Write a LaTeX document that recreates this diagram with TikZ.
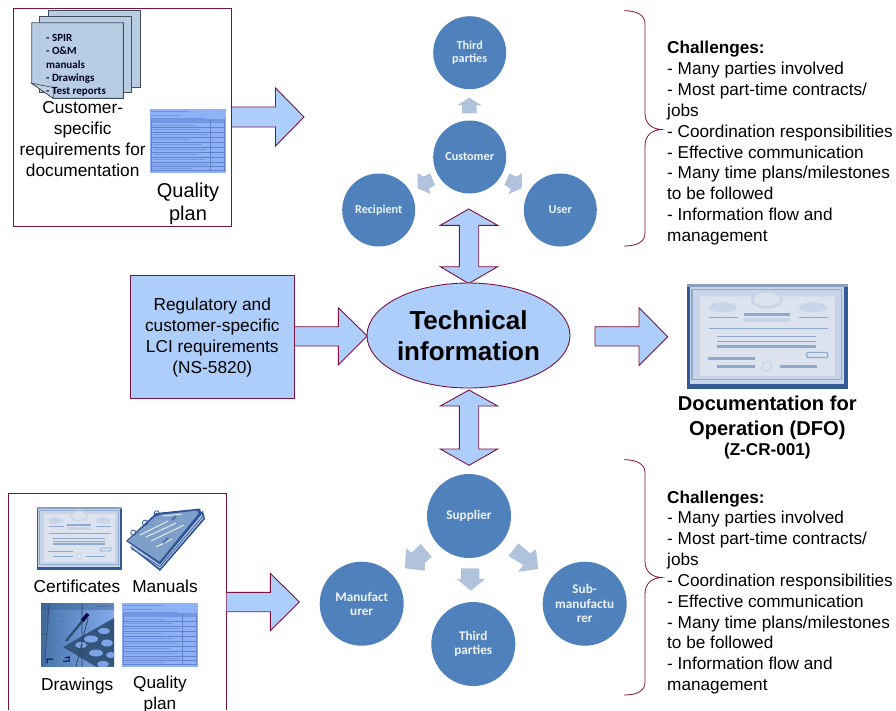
\documentclass[tikz,border=0pt]{standalone}
\usepackage{fontspec}
\setmainfont{Liberation Sans}
\newfontfamily\carl{Carlito}
\usetikzlibrary{shapes.geometric}
\definecolor{maroon}{HTML}{7B1240}
\definecolor{lightfill}{HTML}{ADCDFB}
\definecolor{circblue}{HTML}{4F81BD}
\definecolor{smallarrow}{HTML}{B1C2DD}
\definecolor{pagefill}{HTML}{B8CCE4}
\definecolor{pageline}{HTML}{454F5C}
\definecolor{circtext}{HTML}{EEF3FA}
\definecolor{certdark}{HTML}{345A96}
\definecolor{certmid}{HTML}{8FA8CE}
\definecolor{certband}{HTML}{C8D4E7}
\definecolor{certpale}{HTML}{DCE3EF}
\definecolor{qpbg}{HTML}{8FB2F6}
\definecolor{qpline}{HTML}{6282CC}
\definecolor{qptext}{HTML}{7496E0}
\definecolor{bookdark}{HTML}{2F5597}
\definecolor{bookmid}{HTML}{7F9FCB}
\definecolor{booklight}{HTML}{B4C6E0}
\tikzset{
  x=1pt,y=-1pt,
  blockarrow/.style={draw=maroon,fill=lightfill,line width=0.9pt,line join=miter},
  tinyarrow/.style={fill=smallarrow,draw=none},
  framebox/.style={draw=maroon,line width=0.9pt},
  circlenode/.style={circle,fill=circblue,draw=none,inner sep=0pt,text=circtext,align=center},
  topcirc/.style={circlenode,minimum size=73pt,font=\carl\bfseries\fontsize{12.2}{13.4}\selectfont},
  botcirc/.style={circlenode,minimum size=84pt,font=\carl\bfseries\fontsize{13.2}{14.4}\selectfont},
  bodytext/.style={inner sep=0pt,align=center,text=black,font=\fontsize{17.3}{20.85}\selectfont},
  challenge/.style={inner sep=0pt,align=left,anchor=west,font=\fontsize{17.2}{20.85}\selectfont},
  pagesheet/.style={fill=pagefill,draw=pageline,line width=0.9pt},
  bracestyle/.style={draw=maroon,line width=0.8pt},
}
% certificate picture
\newcommand{\certpic}[5]{%
\begin{scope}[shift={(#1,#2)},xscale=#3/161,yscale=#4/104]
 \fill[certdark] (0,0) rectangle (161,104);
 \fill[certmid!80!gray] (0,0) rectangle (161,3);
 \fill[certband] (2.5,3) rectangle (157.5,99);
 \draw[certmid,line width=#5*1.2pt] (5,5.5) rectangle (155,95);
 \fill[certpale] (13,12) rectangle (148,91);
 \fill[certband] (8,8) -- (60,8) -- (65,12) -- (13,12) -- cycle;
 \fill[certband] (153,8) -- (100,8) -- (95,12) -- (148,12) -- cycle;
 \draw[certband,fill=certpale,line width=#5*2.4pt] (80,15) ellipse (15 and 8);
 \fill[certband] (36,23) ellipse (14 and 5);
 \fill[certband] (126,23) ellipse (14 and 5);
 \draw[certmid,line width=#5*1.6pt] (22,33) -- (51,33) (112,33) -- (141,33) (22,44) -- (141,44) (30,52) -- (129,52) (30,57) -- (129,57);
 \draw[certmid,line width=#5*2.6pt] (57,30) -- (103,30) (30,62) -- (129,62) (21,74) -- (68,74) (30,82) -- (68,82) (93,82) -- (130,82);
 \fill[certband] (57,33.5) rectangle (103,38);
 \draw[certband,line width=#5*1.2pt] (80,82) circle (5);
 \draw[certmid,fill=certpale,line width=#5*1.2pt,rounded corners=1pt] (120,68) rectangle (141,73);
\end{scope}}
% quality plan picture
\newcommand{\qplan}[4]{%
\begin{scope}[shift={(#1,#2)},xscale=#3/76,yscale=#4/64]
 \fill[qpbg] (0,0) rectangle (76,64);
 \draw[qptext,line width=0.5pt] (1,2) -- (40,2) (1,6) -- (30,6) (1,9) -- (55,9);
 \fill[qptext] (1,10.5) rectangle (74,14);
 \foreach \r in {18,23,28,33,38,43,48,53,58}{\draw[qpline,line width=0.5pt] (1,\r) -- (74,\r);}
 \foreach \r/\e in {16/44,20.5/50,25.5/58,30.5/40,35.5/52,40.5/57,45.5/48,50.5/55,55.5/58,60/42}{\draw[qptext,line width=0.7pt] (3,\r) -- (\e,\r);}
 \draw[qpline,line width=0.5pt] (1,10.5) -- (1,62) (60,10.5) -- (60,62) (74,10.5) -- (74,62) (1,62) -- (74,62);
\end{scope}}
\begin{document}
\begin{tikzpicture}
\useasboundingbox (0,0) rectangle (896,710);

% ---------- top-left frame
\node[framebox,minimum width=218pt,minimum height=217.5pt,inner sep=0pt] (topframe) at (122.7,117.2) {};
\draw[blockarrow] (topframe.east |- 0,107) -- (275.5,107) -- (275.5,88) -- (304,117) -- (275.5,146) -- (275.5,127) -- (topframe.east |- 0,127);
\draw[pagesheet] (48.7,10.7) rectangle (140.3,87.3);
\draw[pagesheet] (39.3,16) rectangle (131.7,92.3);
\draw[pagesheet] (31.7,22.7) -- (123.3,22.7) -- (123.3,98.3) -- (53.3,98.3) -- (31.7,83.3) -- cycle;
\draw[pageline,fill=pagefill!85!white,line width=0.7pt] (31.7,83.3) -- (53.3,87.5) -- (53.3,98.3) -- cycle;
\node[anchor=west,inner sep=0pt,text=black!85!blue,font=\carl\bfseries\fontsize{11}{13.35}\selectfont,align=left] (pagetext) at (46,65.3) {- SPIR\\- O\&M\\manuals\\- Drawings\\- Test reports};
\node[bodytext] (custreq) at (82.7,139) {Customer-\\specific\\requirements for\\documentation};
\qplan{150}{109}{76}{63.7}
\node[bodytext,font=\fontsize{20}{23}\selectfont] (qp1) at (188,204) {Quality\\plan};

% ---------- top circles
\node[topcirc] (third1) at (469.7,52.7) {Third\\parties};
\node[topcirc] (customer) at (469.7,157) {Customer};
\node[topcirc] (recipient) at (378.7,210) {Recipient};
\node[topcirc] (user) at (560.3,210) {User};
\fill[tinyarrow] (469.3,97.7) -- (481.7,105.3) -- (476.7,105.3) -- (476.7,113.3) -- (462,113.3) -- (462,105.3) -- (457.3,105.3) -- cycle;
\fill[tinyarrow] (417.7,173.3) -- (423.3,176.7) -- (430,173.3) -- (435,185) -- (428.7,189) -- (430.7,194) -- (417.7,188.3) -- cycle;
\fill[tinyarrow] (522,173.3) -- (516,176.7) -- (509.4,173.3) -- (504.4,185) -- (510.7,189) -- (508.7,194) -- (521.7,188.3) -- cycle;

% ---------- central part
\draw[blockarrow] (468.7,209) -- (497.7,225.3) -- (478.7,225.3) -- (478.7,266.7) -- (497.7,266.7) -- (468.7,283.5) -- (440.3,266.7) -- (459.3,266.7) -- (459.3,225.3) -- (440.3,225.3) -- cycle;
\draw[blockarrow] (469,390) -- (497.7,406) -- (478.7,406) -- (478.7,449) -- (497.7,449) -- (469,465.3) -- (440.3,449) -- (459.3,449) -- (459.3,406) -- (440.3,406) -- cycle;
\node[framebox,fill=lightfill,minimum width=164.7pt,minimum height=123.3pt,inner sep=0pt] (lci) at (212.3,336.7) {};
\node[bodytext] (lcitext) at (212.3,337.5) {Regulatory and\\customer-specific\\LCI requirements\\(NS-5820)};
\draw[blockarrow] (lci.east |- 0,326.7) -- (338.3,326.7) -- (338.3,307.7) -- (367.3,336) -- (338.3,365) -- (338.3,346) -- (lci.east |- 0,346);
\node[ellipse,draw=maroon,fill=lightfill,line width=0.9pt,minimum width=203pt,minimum height=105pt,inner sep=0pt] (techinfo) at (468.5,335.5) {};
\node[inner sep=0pt,align=center,font=\bfseries\fontsize{26}{31}\selectfont] (techtext) at (468.5,335.5) {Technical\\information};
\draw[blockarrow] (595,326.7) -- (639,326.7) -- (639,307.7) -- (667.7,336.7) -- (639,365.5) -- (639,346) -- (595,346) -- cycle;

% ---------- DFO
\certpic{687}{284.3}{160.7}{104.3}{1}
\node[inner sep=0pt,align=center,font=\bfseries\fontsize{20.1}{25.6}\selectfont] (dfo) at (767.3,417.8) {Documentation for\\Operation (DFO)};
\node[inner sep=0pt,font=\bfseries\fontsize{17.1}{20}\selectfont] (zcr) at (767.3,451.5) {(Z-CR-001)};

% ---------- bottom-left frame
\coordinate (fr1) at (8.7,710);
\coordinate (fr2) at (8.7,493.7);
\coordinate (fr3) at (226.7,493.7);
\coordinate (fr4) at (226.7,710);
\draw[framebox] (fr1) -- (fr2) -- (fr3) -- (fr4);
\draw[blockarrow] (fr3 |- 0,592.3) -- (270.3,592.3) -- (270.3,573.3) -- (299.3,602) -- (270.3,630.7) -- (270.3,611.7) -- (fr3 |- 0,611.7);
\certpic{37}{506.7}{84.7}{63}{0.6}
% manuals
\fill[bookdark] (130,547) -- (160,571) -- (205,519) -- (203,511) -- cycle;
\fill[booklight] (130,546) -- (160,568.5) -- (203.5,518) -- (201,513) -- cycle;
\draw[bookdark,line width=0.7pt] (131,548.5) -- (160,566.5) -- (203,516);
\fill[bookdark] (126,541) -- (160,564.5) -- (201.5,514.5) -- (200,508.5) -- (156,513) -- cycle;
\fill[bookmid] (127.8,540.7) -- (159.5,561.5) -- (198.5,513.5) -- (197,510.7) -- (157,515) -- cycle;
\draw[white!85!bookmid,line width=0.9pt] (140,535) -- (168,521) (146,537) -- (176,523) (151,541) -- (184,525) (156,547) -- (172,539) (163,516) -- (182,514);
\draw[bookdark!75!bookmid,line width=1.6pt] (172,520) -- (176,516) (163,543) -- (168,538);
\foreach \a/\b in {133.3/532.7,145/522.7,156.7/513.3}{\draw[bookdark,line width=0.8pt] (\a,\b) circle (2.6);}
% drawings
\begin{scope}[shift={(41,603)}]
 \clip (0,0) rectangle (73,63.7);
 \shade[left color=circblue!90!black,right color=qpbg!85!circblue] (0,0) rectangle (73,63.7);
 \fill[circblue!75!black,opacity=.45] (0,0) rectangle (73,7);
 \fill[circblue!70!black,opacity=.35] (0,0) -- (10,0) -- (3,63.7) -- (0,63.7) -- cycle;
 \fill[circblue!65!black] (22,44) -- (73,15) -- (73,63.7) -- (55,63.7) -- cycle;
 \foreach \a/\b/\c/\d in {63/28/6/3,50/36/7/3.5,66/40/6/3.5,40/42/6/3,55/50/7/3.5,70/52/5/3,62/61/6/3}{\fill[qpbg!70!circblue] (\a,\b) ellipse (\c pt and \d pt);}
 \draw[circblue!55!black,line width=2pt] (25,38) -- (43,16);
 \draw[black!75!blue,line width=3.5pt] (41,18) -- (47,11);
 \draw[circblue!50!black,line width=0.7pt] (41,0) -- (41,63.7) (35,63.7) -- (47,15);
 \draw[circblue!60!black,line width=0.5pt] (0,31) -- (8,31) (8,0) -- (4,60) (20,18) -- (24,18) (55,3) -- (70,3);
 \draw[black!70!blue,line width=1pt] (6,60) -- (6,56) -- (12,56) (22,58) -- (28,58) -- (28,54) -- (24,55);
\end{scope}
\qplan{122}{603}{76}{63.7}
\node[bodytext] (certlab) at (77,586) {Certificates};
\node[bodytext] (manlab) at (165,586) {Manuals};
\node[bodytext] (drawlab) at (77.3,686.3) {Drawings};
\node[bodytext,font=\fontsize{17.2}{20.85}\selectfont] (qp2) at (160,694.3) {Quality\\plan};

% ---------- bottom circles
\node[botcirc] (supplier) at (469,516) {Supplier};
\node[botcirc] (manuf) at (361.7,603.7) {Manufact\\urer};
\node[botcirc] (third2) at (473.3,644) {Third\\parties};
\node[botcirc] (submanuf) at (584.7,603.7) {Sub-\\manufactu\\rer};
\fill[tinyarrow] (420.7,544) -- (431.7,556.7) -- (425,562.7) -- (424.7,570.7) -- (405,568.3) -- (406,548.3) -- (411.7,552.7) -- cycle;
\fill[tinyarrow] (518.3,543.3) -- (530,553.3) -- (536,549.3) -- (538.3,569) -- (518.3,571.7) -- (523.3,565) -- (508.3,556) -- cycle;
\fill[tinyarrow] (461,568.3) -- (479.3,568.3) -- (479.3,579) -- (485,579) -- (471,590.7) -- (456.7,579) -- (461,579) -- cycle;

% ---------- braces
\draw[bracestyle] (624,10.7) .. controls (637,10.7) and (645,15) .. (645,24) -- (645,113) .. controls (645,123) and (651,129) .. (661.7,129.5) .. controls (651,130) and (645,136) .. (645,146) -- (645,233) .. controls (645,242) and (637,246) .. (624,246);
\draw[bracestyle] (624,459.7) .. controls (637,459.7) and (645,464) .. (645,473) -- (645,561) .. controls (645,571) and (651,577) .. (661.7,577.5) .. controls (651,578) and (645,584) .. (645,594) -- (645,682) .. controls (645,691) and (637,695) .. (624,695);

% ---------- challenges
\node[challenge] (chal1) at (667,143.2) {\textbf{Challenges:}\\- Many parties involved\\- Most part-time contracts/\\jobs\\- Coordination responsibilities\\- Effective communication\\- Many time plans/milestones\\to be followed\\- Information flow and\\management};
\node[challenge] (chal2) at (667,592.4) {\textbf{Challenges:}\\- Many parties involved\\- Most part-time contracts/\\jobs\\- Coordination responsibilities\\- Effective communication\\- Many time plans/milestones\\to be followed\\- Information flow and\\management};
\end{tikzpicture}
\end{document}
